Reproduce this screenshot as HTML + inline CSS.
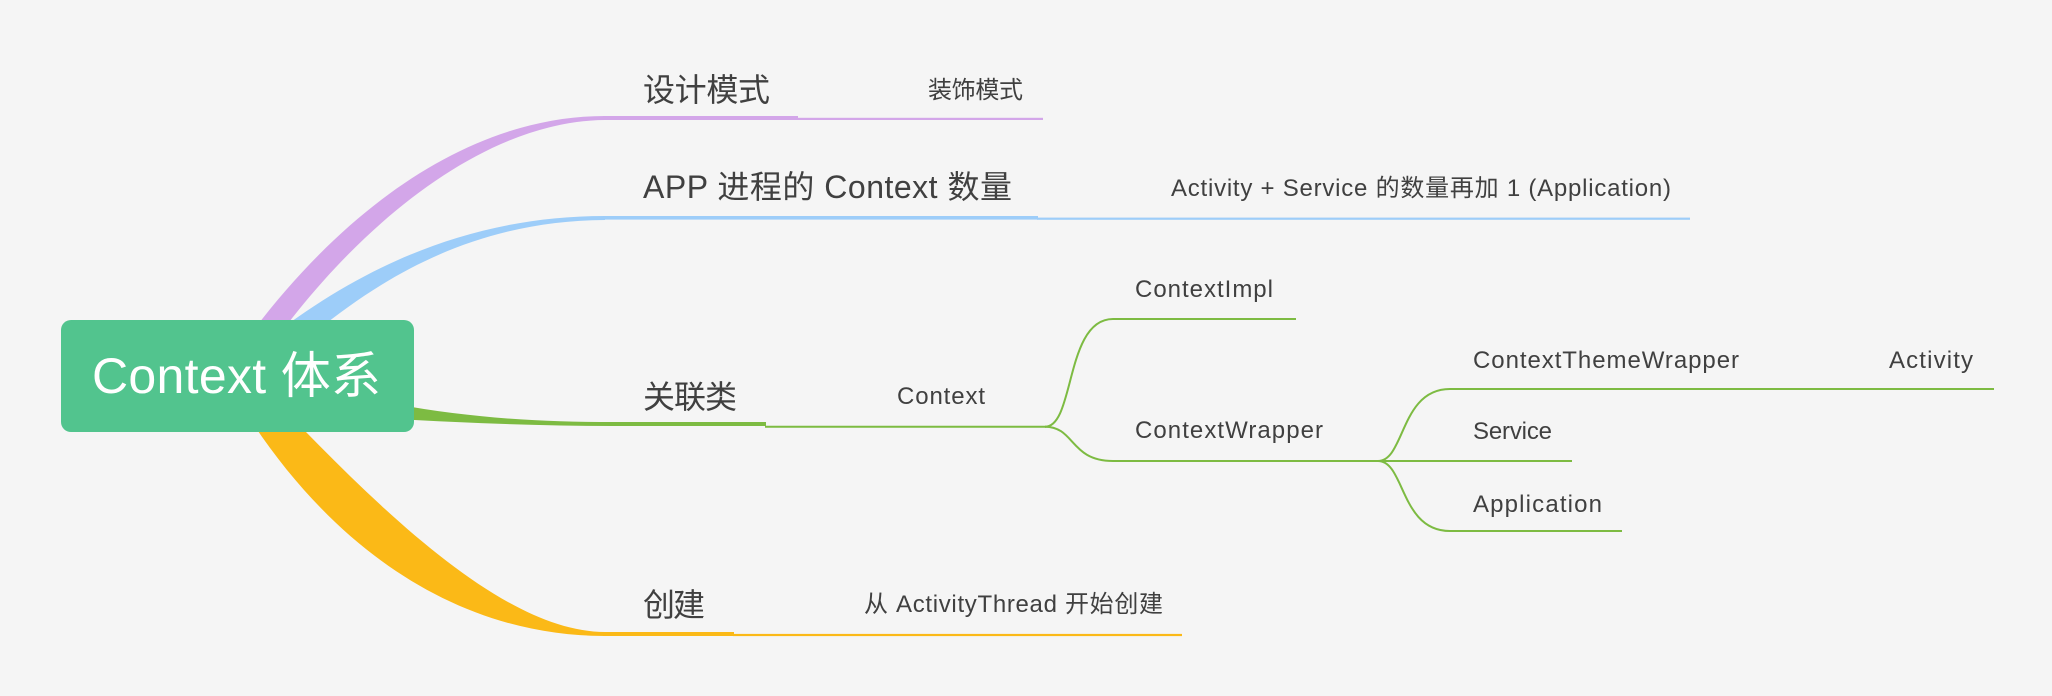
<!DOCTYPE html>
<html>
<head>
<meta charset="utf-8">
<style>
  html, body { margin:0; padding:0; background:#f5f5f5; }
  svg { display:block; }
  text { font-family: "Liberation Sans", "Noto Sans CJK SC", sans-serif; fill:#404040; }
</style>
</head>
<body>
<svg width="2052" height="696" viewBox="0 0 2052 696" xmlns="http://www.w3.org/2000/svg">
  <rect x="0" y="0" width="2052" height="696" fill="#f5f5f5"/>

  <!-- Purple branch -->
  <path d="M 225,370 C 325,222 460,116 605,116 L 605,120 C 470,121 330,250 245,385 Z" fill="#d3a6e9"/>
  <rect x="603" y="116" width="195" height="4" fill="#d3a6e9"/>
  <rect x="797" y="117.8" width="246" height="2.2" fill="#d3a6e9"/>

  <!-- Blue branch -->
  <path d="M 228,372 C 320,292 440,216 605,216 L 605,220 C 440,221 335,310 250,390 Z" fill="#9dcdf9"/>
  <rect x="603" y="216" width="435" height="3.6" fill="#9dcdf9"/>
  <rect x="1037" y="217.6" width="653" height="2.2" fill="#9dcdf9"/>

  <!-- Green branch -->
  <path d="M 395,404 C 470,418 540,422 613,422 L 613,426 C 540,426 470,423 395,419 Z" fill="#7dbb42"/>
  <rect x="611" y="422" width="155" height="4" fill="#7dbb42"/>
  <line x1="765" y1="426.7" x2="1046" y2="426.7" stroke="#7dbb42" stroke-width="2"/>

  <!-- Green sub-branches -->
  <g fill="none" stroke="#7dbb42" stroke-width="2">
    <path d="M 1045,426.7 C 1075,426.7 1065,319 1113,319 L 1296,319"/>
    <path d="M 1045,426.7 C 1075,426.7 1070,461 1113,461 L 1384,461"/>
    <path d="M 1378,461 C 1405,461 1400,389 1450,389 L 1994,389"/>
    <path d="M 1378,461 L 1572,461"/>
    <path d="M 1378,461 C 1405,461 1400,531 1450,531 L 1622,531"/>
  </g>

  <!-- Orange branch -->
  <path d="M 258,382 C 370,500 500,632 605,632 L 605,636 C 450,636 320,540 232,390 Z" fill="#fbb917"/>
  <rect x="603" y="632" width="131" height="4" fill="#fbb917"/>
  <rect x="733" y="633.9" width="449" height="2.2" fill="#fbb917"/>

  <!-- Root node -->
  <rect x="61" y="320" width="353" height="112" rx="10" ry="10" fill="#52c48e"/>
  <text x="92" y="393" font-size="50" textLength="289" style="fill:#ffffff">Context 体系</text>

  <!-- Level 1 labels -->
  <text x="643" y="101" font-size="32" textLength="127">设计模式</text>
  <text x="643" y="198" font-size="32" textLength="369">APP 进程的 Context 数量</text>
  <text x="643" y="408" font-size="32" textLength="94">关联类</text>
  <text x="643" y="616" font-size="32" textLength="62">创建</text>

  <!-- Level 2 labels -->
  <text x="928" y="98" font-size="24" textLength="95">装饰模式</text>
  <text x="1171" y="196" font-size="24" textLength="500">Activity + Service 的数量再加 1 (Application)</text>
  <text x="897" y="404" font-size="24" textLength="88">Context</text>
  <text x="864" y="612" font-size="24" textLength="299">从 ActivityThread 开始创建</text>

  <!-- Level 3+ labels -->
  <text x="1135" y="297" font-size="24" textLength="138">ContextImpl</text>
  <text x="1135" y="438" font-size="24" textLength="188">ContextWrapper</text>
  <text x="1473" y="368" font-size="24" textLength="266">ContextThemeWrapper</text>
  <text x="1889" y="368" font-size="24" textLength="84">Activity</text>
  <text x="1473" y="439" font-size="24" textLength="79">Service</text>
  <text x="1473" y="512" font-size="24" textLength="129">Application</text>
</svg>
</body>
</html>
